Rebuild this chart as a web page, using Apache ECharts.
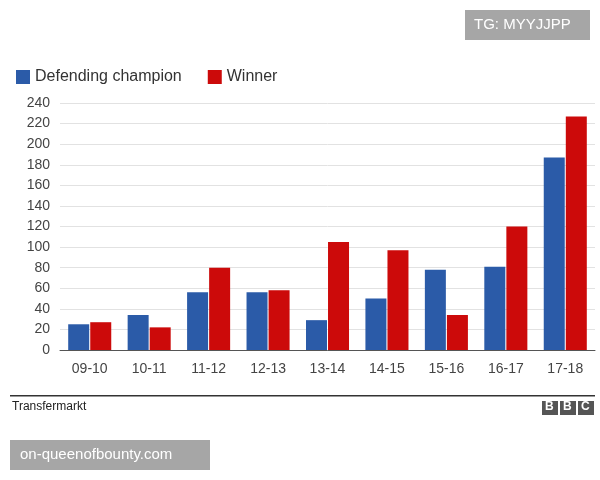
<!DOCTYPE html>
<html>
<head>
<meta charset="utf-8">
<script src="https://cdn.jsdelivr.net/npm/echarts@6/dist/echarts.min.js"></script>
<style>html,body{margin:0;padding:0;background:#fff}#chart{width:600px;height:480px}</style>
</head>
<body>
<div id="chart"></div>
<script>
const seasons = ['09-10', '10-11', '11-12', '12-13', '13-14', '14-15', '15-16', '16-17', '17-18'];
const defendingChampion = [25, 34, 56, 56, 29, 50, 78, 81, 187];
const winner = [27, 22, 80, 58, 105, 97, 34, 120, 227];

const chart = echarts.init(document.getElementById('chart'));
const font = 'Liberation Sans, Arial, sans-serif';

chart.setOption({
    backgroundColor: '#fff',
    animation: false,
    textStyle: { fontFamily: font },
    legend: {
        left: 11,
        top: 64,
        itemWidth: 14,
        itemHeight: 14,
        itemGap: 26,
        icon: 'rect',
        textStyle: { fontSize: 16, color: '#333', fontFamily: font },
        data: ['Defending champion', 'Winner']
    },
    grid: { left: 60, right: 5, top: 103, bottom: 130 },
    xAxis: {
        type: 'category',
        data: seasons,
        axisTick: { show: false },
        axisLine: { lineStyle: { color: '#555' } },
        axisLabel: { color: '#444', fontSize: 14, margin: 12 }
    },
    yAxis: {
        type: 'value',
        min: 0,
        max: 240,
        interval: 20,
        axisLine: { show: false },
        axisTick: { show: false },
        axisLabel: { color: '#444', fontSize: 14, margin: 10 },
        splitLine: { lineStyle: { color: '#e2e2e2' } }
    },
    series: [
        {
            name: 'Defending champion',
            type: 'bar',
            data: defendingChampion,
            barWidth: 21,
            barGap: '5%',
            itemStyle: { color: '#2b5ba8' }
        },
        {
            name: 'Winner',
            type: 'bar',
            data: winner,
            barWidth: 21,
            itemStyle: { color: '#cc0a0a' }
        }
    ],
    graphic: [
        { type: 'rect', shape: { x: 465, y: 10, width: 125, height: 30 }, style: { fill: '#a6a6a6' } },
        { type: 'text', left: 474, top: 17, style: { text: 'TG: MYYJJPP', fill: '#fff', font: '15px ' + font } },
        { type: 'rect', shape: { x: 10, y: 395, width: 585, height: 1.5 }, style: { fill: '#333' } },
        { type: 'text', left: 12, top: 401, style: { text: 'Transfermarkt', fill: '#222', font: '12px ' + font } },
        { type: 'rect', shape: { x: 542, y: 401, width: 16, height: 14 }, style: { fill: '#555' } },
        { type: 'rect', shape: { x: 560, y: 401, width: 16, height: 14 }, style: { fill: '#555' } },
        { type: 'rect', shape: { x: 578, y: 401, width: 16, height: 14 }, style: { fill: '#555' } },
        { type: 'text', left: 545, top: 401, style: { text: 'B', fill: '#fff', font: 'bold 12px ' + font } },
        { type: 'text', left: 563, top: 401, style: { text: 'B', fill: '#fff', font: 'bold 12px ' + font } },
        { type: 'text', left: 581, top: 401, style: { text: 'C', fill: '#fff', font: 'bold 12px ' + font } },
        { type: 'rect', shape: { x: 10, y: 440, width: 200, height: 30 }, style: { fill: '#a6a6a6' } },
        { type: 'text', left: 20, top: 447, style: { text: 'on-queenofbounty.com', fill: '#fff', font: '15px ' + font } }
    ]
});
</script>
</body>
</html>
